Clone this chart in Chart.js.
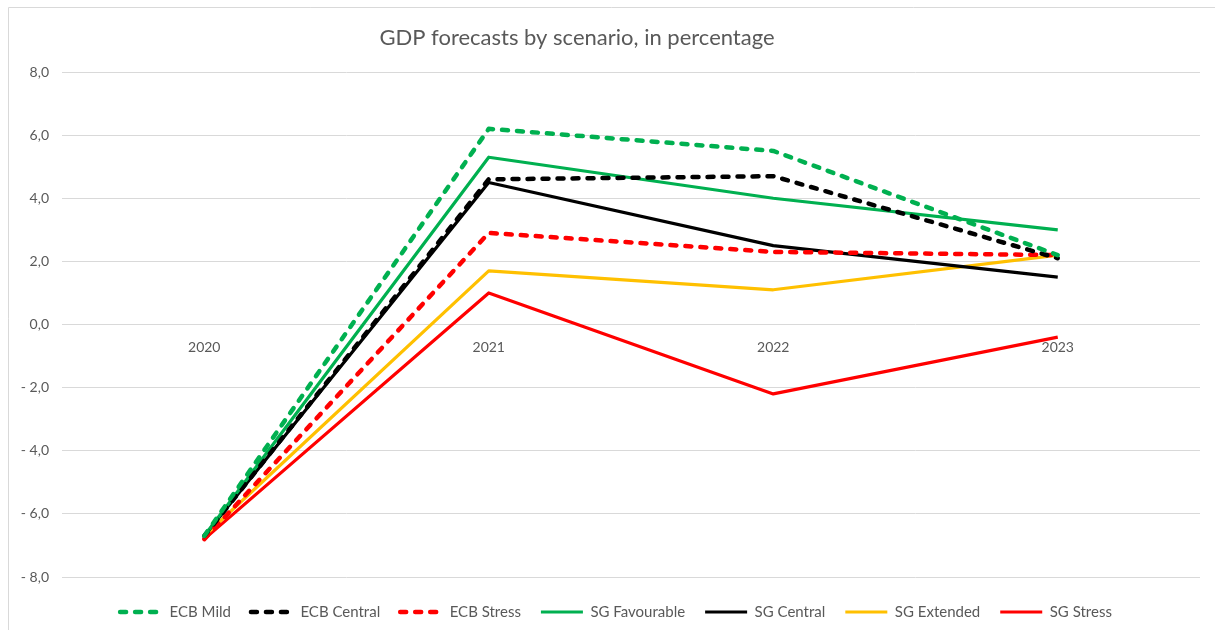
<!DOCTYPE html>
<html>
<head>
<meta charset="utf-8">
<script src="https://cdn.jsdelivr.net/npm/chart.js@4/dist/chart.umd.min.js"></script>
<style>
  html, body { margin: 0; padding: 0; background: #ffffff; }
  #wrap { position: relative; width: 1215px; height: 630px; }
</style>
</head>
<body>
<div id="wrap"><canvas id="c" width="1215" height="630"></canvas></div>
<script>
const categories = ['2020', '2021', '2022', '2023'];
const ecbMild      = [-6.7, 6.2, 5.5, 2.2];
const ecbCentral   = [-6.7, 4.6, 4.7, 2.1];
const ecbStress    = [-6.8, 2.9, 2.3, 2.2];
const sgFavourable = [-6.7, 5.3, 4.0, 3.0];
const sgCentral    = [-6.7, 4.5, 2.5, 1.5];
const sgExtended   = [-6.7, 1.7, 1.1, 2.2];
const sgStress     = [-6.8, 1.0, -2.2, -0.4];
const seriesNames  = ['ECB Mild', 'ECB Central', 'ECB Stress', 'SG Favourable', 'SG Central', 'SG Extended', 'SG Stress'];
const titleText = 'GDP forecasts by scenario, in percentage';

const GREEN = '#00B050', BLACK = '#000000', RED = '#FF0000', YELLOW = '#FFC000';
const TEXT = '#595959', GRID = '#d9d9d9';
const FONT = 'Lato, "Open Sans", sans-serif';

function ds(label, data, color, dashed) {
  return {
    label, data,
    borderColor: color, backgroundColor: color,
    borderWidth: dashed ? 4.5 : 3.2,
    borderDash: dashed ? [6, 9] : [],
    borderCapStyle: dashed ? 'round' : 'butt',
    borderJoinStyle: 'round',
    pointRadius: 0, pointHoverRadius: 0,
    tension: 0,
    fill: false
  };
}

const frame = {
  id: 'frame',
  afterLayout(chart) {
    const t = chart.titleBlock;
    if (t) { t.left -= 23; t.right -= 23; }
    const l = chart.legend;
    if (l) { l.left += 16; l.right += 16; }
  },
  beforeDraw(chart) {
    const ctx = chart.ctx;
    ctx.save();
    ctx.strokeStyle = GRID;
    ctx.lineWidth = 1;
    ctx.beginPath();
    ctx.moveTo(8.5, 630); ctx.lineTo(8.5, 7.5); ctx.lineTo(1215, 7.5);
    ctx.stroke();
    ctx.restore();
  }
};

new Chart(document.getElementById('c'), {
  type: 'line',
  data: {
    labels: categories,
    datasets: [
      ds(seriesNames[0], ecbMild, GREEN, true),
      ds(seriesNames[1], ecbCentral, BLACK, true),
      ds(seriesNames[2], ecbStress, RED, true),
      ds(seriesNames[3], sgFavourable, GREEN, false),
      ds(seriesNames[4], sgCentral, BLACK, false),
      ds(seriesNames[5], sgExtended, YELLOW, false),
      ds(seriesNames[6], sgStress, RED, false)
    ]
  },
  options: {
    responsive: false,
    animation: false,
    layout: { padding: { left: 0, right: 15, top: 0, bottom: 0.5 } },
    scales: {
      x: {
        type: 'category',
        position: { y: 0 },
        offset: true,
        grid: { display: false, drawTicks: false },
        border: { display: false },
        ticks: { color: TEXT, font: { family: FONT, size: 14 }, padding: 15, maxRotation: 0 }
      },
      y: {
        min: -8, max: 8,
        afterFit(scale) { scale.width = 62; },
        grid: { color: GRID, lineWidth: 1, drawTicks: false },
        border: { display: false },
        ticks: {
          stepSize: 2,
          color: TEXT,
          font: { family: FONT, size: 14 },
          padding: 13,
          callback: v => (v < 0 ? '- ' : '') + Math.abs(v).toFixed(1).replace('.', ',')
        }
      }
    },
    plugins: {
      title: {
        display: true,
        text: titleText,
        color: TEXT,
        font: { family: FONT, size: 22, weight: 'normal' },
        padding: { top: 25, bottom: 20.6 }
      },
      legend: {
        position: 'bottom',
        title: { display: true, text: '', padding: { top: 6.3, bottom: 0 }, font: { size: 1 } },
        labels: {
          usePointStyle: true,
          pointStyle: 'line',
          pointStyleWidth: 42,
          boxHeight: 13,
          padding: 20,
          color: TEXT,
          font: { family: FONT, size: 15 },
          generateLabels(chart) {
            const items = Chart.defaults.plugins.legend.labels.generateLabels(chart);
            items.forEach(it => {
              const d = chart.data.datasets[it.datasetIndex];
              it.lineDash = d.borderDash;
              it.lineWidth = d.borderWidth;
              it.lineCap = d.borderCapStyle;
              it.strokeStyle = d.borderColor;
            });
            return items;
          }
        }
      },
      tooltip: { enabled: false }
    }
  },
  plugins: [frame]
});
</script>
</body>
</html>
